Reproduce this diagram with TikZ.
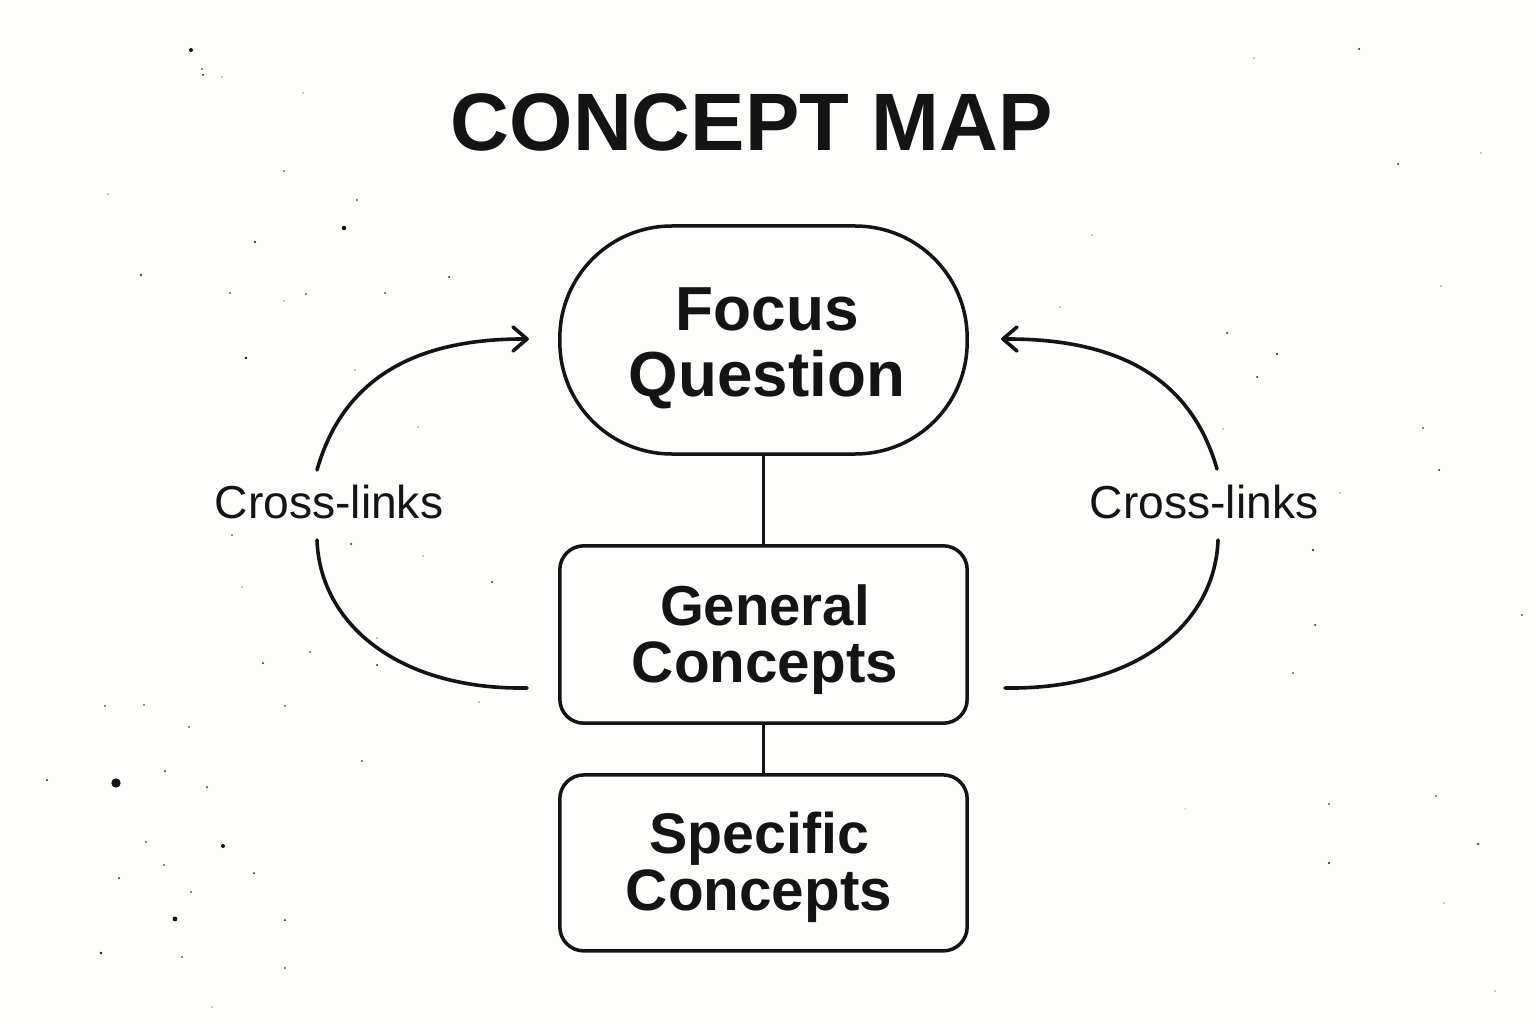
\documentclass[tikz,border=0pt]{standalone}
\usepackage{fontspec}
\setmainfont{Liberation Sans}
\definecolor{ink}{HTML}{141414}
\definecolor{paper}{HTML}{FDFDFB}
\tikzset{
  x=1pt,y=-1pt,
  box/.style={draw=ink,line width=3.5pt,inner sep=0pt,anchor=center},
  link/.style={draw=ink,line width=3.5pt},
  arc/.style={draw=ink,line width=3.6pt,line cap=round,line join=round},
  lab/.style={text=ink,inner sep=0pt,font=\fontsize{46.2}{50}\selectfont},
  boxtext/.style={text=ink,align=center,inner sep=0pt,font=\fontsize{58}{#1}\selectfont\bfseries},
  speck/.style={fill=ink,draw=none}
}
\begin{document}
\begin{tikzpicture}
\fill[paper] (0,0) rectangle (1536,1024);
\useasboundingbox (0,0) rectangle (1536,1024);
\foreach \x/\y/\r in {116/783/4.7,223/846/2,175/919/2.4,47/780/1,165/771/1,207/787/1,146/842/.8,164/865/.8,119/878/1,254/873/1,191/892/.8,285/920/1,101/953/1.3,182/957/.8,285/968/.8,212/1007/.6,105/706/.8,144/705/.8,285/706/.8,189/727/.8,362/761/.8,246/358/1.3,232/535/.9,351/544/1,423/556/.7,492/582/1,242/587/.7,310/652/.8,263/663/1,377/665/1,377/638/.7,479/702/.7,355/370/.6,418/427/.6,191/50/2,202/69/.8,203/75/1,222/77/.7,284/171/.9,357/200/.8,344/228/2.3,255/242/1.2,141/275/1.2,230/293/.8,306/294/.8,284/301/.7,385/293/.8,449/277/1,303/93/.6,108/194/.6,1359/49/1,1254/58/.7,1398/164/1,1481/153/.6,1092/235/.7,1441/286/.7,1227/333/1,1277/354/1.2,1257/377/1,1423/428/.8,1439/470/1,1223/429/.6,1060/307/.6,1313/550/1.1,1315/625/1,1293/673/.8,1522/615/.8,1340/493/.6,1436/796/.8,1329/804/.8,1478/844/1.2,1329/863/1.2,1444/903/.6,1495/991/.6,1185/809/.5}
  \fill[speck] (\x,\y) circle (\r);
\node[lab] (title) at (752,122) {\fontsize{81.5}{84}\selectfont\bfseries CONCEPT MAP};
\node[box,minimum width=407.4pt,minimum height=228pt,rounded corners=112pt] (focus) at (763.5,340) {};
\node[box,minimum width=407.4pt,minimum height=177.4pt,rounded corners=24pt] (general) at (763.5,634.5) {};
\node[box,minimum width=407.4pt,minimum height=176pt,rounded corners=24pt] (specific) at (763.5,862.9) {};
\node[boxtext=66] (t1) at (767,348) {{\fontsize{62.2}{66}\selectfont Focus}\\{\fontsize{63.7}{66}\selectfont Question}};
\node[boxtext=57] (t2) at (765,640) {{\fontsize{56.3}{57}\selectfont General}\\{\fontsize{58.4}{57}\selectfont Concepts}};
\node[boxtext=57] (t3) at (759,867) {{\fontsize{57.3}{57}\selectfont Specific}\\{\fontsize{58.4}{57}\selectfont Concepts}};
\draw[link] (focus.south) -- (general.north);
\draw[link] (general.south) -- (specific.north);
\node[lab] (cl) at (329,502) {Cross-links};
\node[lab] (cr) at (1204,502) {Cross-links};
\coordinate (lt) at (317,470);
\coordinate (la) at (527,339);
\coordinate (lb) at (317,540);
\coordinate (le) at (527,688);
\coordinate (rt) at (1217,469);
\coordinate (ra) at (1003,339);
\coordinate (rb) at (1218,540);
\coordinate (re) at (1005,688);
\draw[arc] (lt) .. controls (344,375) and (420,338) .. (la);
\draw[arc] (513,327) -- (la) -- (513,351);
\draw[arc] (rt) .. controls (1190,375) and (1114,338) .. (ra);
\draw[arc] (1017,327) -- (ra) -- (1017,351);
\draw[arc] (lb) .. controls (320,625) and (400,690) .. (le);
\draw[arc] (rb) .. controls (1215,625) and (1135,690) .. (re);
\end{tikzpicture}
\end{document}
